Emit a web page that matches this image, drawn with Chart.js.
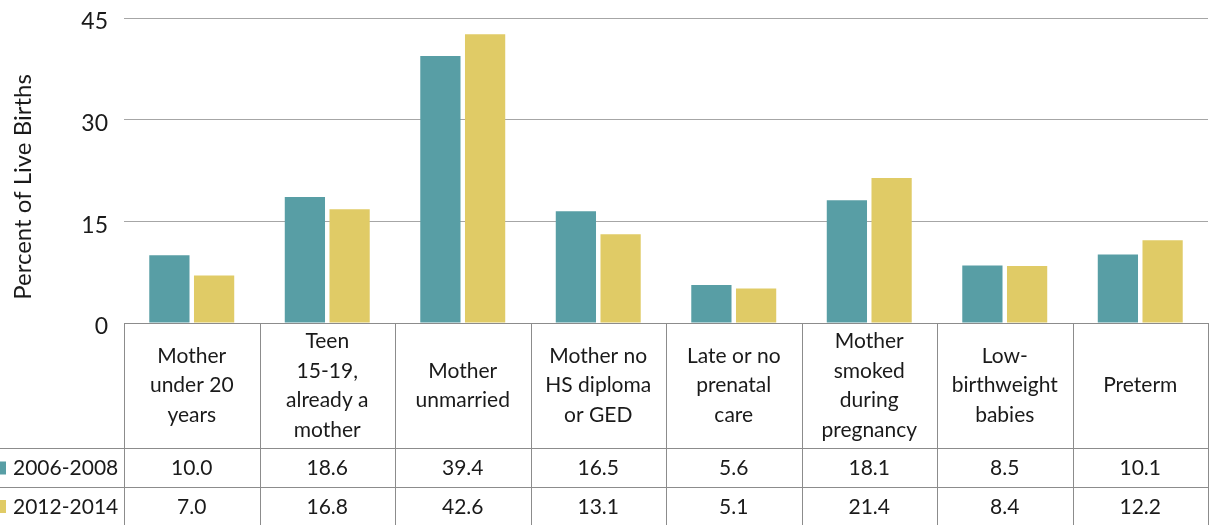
<!DOCTYPE html>
<html>
<head>
<meta charset="utf-8">
<script src="https://cdn.jsdelivr.net/npm/chart.js@4"></script>
<style>
  body { margin: 0; background: #fff; }
  #wrap { width: 1216px; height: 525px; }
</style>
</head>
<body>
<div id="wrap"><canvas id="births"></canvas></div>
<script>
// categories, one array of text lines per table header cell
const categories = [
  ["Mother", "under 20", "years"],
  ["Teen", "15-19,", "already a", "mother"],
  ["Mother", "unmarried"],
  ["Mother no", "HS diploma", "or GED"],
  ["Late or no", "prenatal", "care"],
  ["Mother", "smoked", "during", "pregnancy"],
  ["Low-", "birthweight", "babies"],
  ["Preterm"]
];
const seriesNames = ["2006-2008", "2012-2014"];
const values2006 = [10.0, 18.6, 39.4, 16.5, 5.6, 18.1, 8.5, 10.1];
const values2012 = [7.0, 16.8, 42.6, 13.1, 5.1, 21.4, 8.4, 12.2];
const yTicks = [0, 15, 30, 45];
const yTitle = "Percent of Live Births";

const FONT = "Lato";
const lineColor = "#8c8c8c";
const textColor = "#1a1a1a";

// data table drawn under the plot, aligned with the x scale, plus the axis title
const dataTable = {
  id: "dataTable",
  afterDraw(chart) {
    const c = chart.ctx;
    const x = chart.scales.x;
    const area = chart.chartArea;
    const top = area.bottom;
    const row1 = 448, row2 = 487, bottom = 525;
    const step = x.width / categories.length;
    c.save();
    c.strokeStyle = lineColor;
    c.lineWidth = 1;
    c.beginPath();
    c.moveTo(area.left, top + 0.5); c.lineTo(area.right, top + 0.5);
    c.moveTo(0, row1 + 0.5); c.lineTo(area.right, row1 + 0.5);
    c.moveTo(0, row2 + 0.5); c.lineTo(area.right, row2 + 0.5);
    for (let i = 0; i <= categories.length; i++) {
      const px = Math.round(x.left + i * step) + 0.5;
      c.moveTo(px, top); c.lineTo(px, bottom);
    }
    c.stroke();

    c.fillStyle = textColor;
    c.font = "21px " + FONT;
    c.textAlign = "center";
    c.textBaseline = "middle";
    const lh = 29.5;
    const midHead = (top + row1) / 2;
    categories.forEach((lines, i) => {
      const cx = x.getPixelForValue(i);
      const y0 = midHead - (lines.length - 1) * lh / 2;
      lines.forEach((t, j) => c.fillText(t, cx, y0 + j * lh));
    });
    const rows = [[values2006, (row1 + row2) / 2], [values2012, (row2 + bottom) / 2]];
    rows.forEach(([vals, cy], r) => {
      vals.forEach((v, i) => c.fillText(v.toFixed(1), x.getPixelForValue(i), cy + 1));
      const ds = chart.data.datasets[r];
      c.fillStyle = ds.backgroundColor;
      c.fillRect(-4, cy - 6, 10, 13);
      c.fillStyle = textColor;
      c.textAlign = "left";
      c.fillText(ds.label, 13, cy + 1);
      c.textAlign = "center";
    });

    // y axis title, sits a bit lower than the plot centre
    c.translate(23, 187);
    c.rotate(-Math.PI / 2);
    c.font = "24px " + FONT;
    c.textAlign = "center";
    c.fillText(yTitle, 0, 0);
    c.restore();
  }
};

new Chart(document.getElementById("births"), {
  type: "bar",
  data: {
    labels: categories,
    datasets: [
      { label: seriesNames[0], data: values2006, backgroundColor: "#589ea5" },
      { label: seriesNames[1], data: values2012, backgroundColor: "#e0cb66" }
    ]
  },
  options: {
    responsive: true,
    maintainAspectRatio: false,
    animation: false,
    layout: { padding: { top: 18, right: 8, bottom: 202, left: 8 } },
    datasets: { bar: { barPercentage: 0.9, categoryPercentage: 0.66 } },
    plugins: {
      legend: { display: false },
      tooltip: { enabled: false }
    },
    scales: {
      x: { display: false },
      y: {
        min: 0,
        max: 45,
        afterFit: (s) => { s.width = 116; s.paddingTop = 0; s.paddingBottom = 0; },
        afterBuildTicks: (s) => { s.ticks = yTicks.map(v => ({ value: v })); },
        border: { display: false },
        grid: { color: "#a6a6a6", drawTicks: false },
        ticks: {
          padding: 16,
          labelOffset: 4,
          color: textColor,
          font: { family: FONT, size: 23 }
        }
      }
    }
  },
  plugins: [dataTable]
});
</script>
</body>
</html>
